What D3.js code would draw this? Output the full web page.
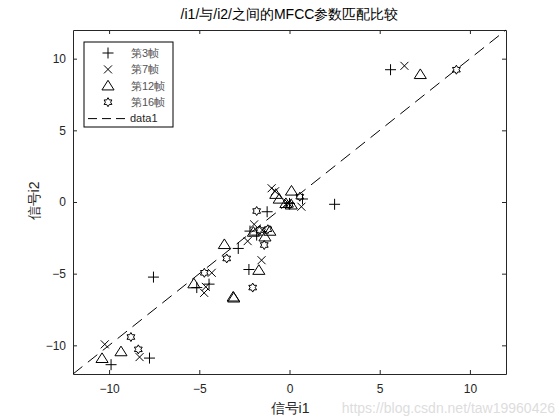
<!DOCTYPE html>
<html>
<head>
<meta charset="utf-8">
<script src="https://cdn.jsdelivr.net/npm/d3@7"></script>
<style>
  body { margin: 0; background: #fff; }
  text { font-family: "Liberation Sans", Arial, sans-serif; }
</style>
</head>
<body>
<svg id="chart"></svg>
<script>
// values (MFCC coefficient pairs per frame)
var frame3x  = [5.6, 2.5, -7.54, -5.14, -4.46, -2.25, -9.89, -7.76, -1.24, -2.19, -1.82, -2.84, 0.72, 0.0];
var frame3y  = [9.23, -0.16, -5.24, -5.97, -5.73, -4.71, -11.35, -10.89, -0.68, -2.03, -2.31, -3.24, 0.21, -0.1];
var frame7x  = [6.37, -10.24, -8.31, -4.73, -4.31, -4.64, -0.99, 0.66, -1.96, -2.32, -1.55, -1.5, -0.8, -0.1];
var frame7y  = [9.5, -9.93, -10.82, -6.34, -4.94, -5.92, 0.96, -0.33, -1.56, -2.73, -4.06, -1.96, 0.75, -0.05];
var frame12x = [7.25, -5.3, -1.7, -3.09, -3.12, -9.34, -10.39, -0.76, -0.57, 0.11, -3.61, -1.09, -1.36, -2.0, -0.2, 0.1];
var frame12y = [8.9, -5.7, -4.76, -6.69, -6.62, -10.44, -10.91, 0.54, 0.21, 0.77, -2.96, -2.03, -2.43, -2.1, -0.1, -0.2];
var frame16x = [9.25, -8.79, -8.38, -4.72, -2.04, -1.82, -1.64, -1.4, -3.48, 0.57, -1.2, 0.0];
var frame16y = [9.23, -9.42, -10.28, -4.94, -5.97, -0.63, -1.96, -3.0, -3.94, 0.37, -1.9, -0.2];
var legendNames = ["第3帧", "第7帧", "第12帧", "第16帧", "data1"];
var lineX = [-12, 12];
var xTicks = [-10, -5, 0, 5, 10];
var yTicks = [-10, -5, 0, 5, 10];

var width = 560, height = 420;
var margin = {left: 73, right: 54, top: 30, bottom: 46};

var svg = d3.select("#chart").attr("width", width).attr("height", height);

var x = d3.scaleLinear().domain([-12, 12]).range([margin.left, width - margin.right]);
var y = d3.scaleLinear().domain([-12, 12]).range([height - margin.bottom, margin.top]);

var ink = "#262626";

// axes with inward ticks on all four sides
var gx = svg.append("g")
  .attr("transform", "translate(0," + (height - margin.bottom) + ")")
  .call(d3.axisBottom(x).tickValues(xTicks).tickSizeInner(-4).tickSizeOuter(0).tickPadding(10));
var gxTop = svg.append("g")
  .attr("transform", "translate(0," + margin.top + ")")
  .call(d3.axisTop(x).tickValues(xTicks).tickSizeInner(-4).tickSizeOuter(0).tickFormat(""));
var gy = svg.append("g")
  .attr("transform", "translate(" + margin.left + ",0)")
  .call(d3.axisLeft(y).tickValues(yTicks).tickSizeInner(-4).tickSizeOuter(0).tickPadding(7));
var gyRight = svg.append("g")
  .attr("transform", "translate(" + (width - margin.right) + ",0)")
  .call(d3.axisRight(y).tickValues(yTicks).tickSizeInner(-4).tickSizeOuter(0).tickFormat(""));

[gx, gxTop, gy, gyRight].forEach(function(g) {
  g.select(".domain").attr("stroke", ink);
  g.selectAll(".tick line").attr("stroke", ink);
  g.selectAll(".tick text")
    .attr("fill", ink)
    .attr("font-size", "12px")
    .attr("font-family", "'Liberation Sans', Arial, sans-serif");
});

// dashed y = x reference line
svg.append("line")
  .attr("x1", x(lineX[0])).attr("y1", y(lineX[0]))
  .attr("x2", x(lineX[1])).attr("y2", y(lineX[1]))
  .attr("stroke", "#000")
  .attr("stroke-width", 1)
  .attr("stroke-dasharray", "12,7");

// marker shapes
function plusPath(s) { return "M" + (-s) + ",0H" + s + "M0," + (-s) + "V" + s; }
function crossPath(s) { return "M" + (-s) + "," + (-s) + "L" + s + "," + s + "M" + (-s) + "," + s + "L" + s + "," + (-s); }
function triPath(s) { return "M0," + (-s) + "L" + (s * 1.1) + "," + (s * 0.75) + "L" + (-s * 1.1) + "," + (s * 0.75) + "Z"; }
function hexPath(s) {
  var p = "";
  for (var k = 0; k < 12; k++) {
    var a = -Math.PI / 2 + k * Math.PI / 6;
    var r = (k % 2 === 0) ? s : s * 0.58;
    p += (k === 0 ? "M" : "L") + (r * Math.cos(a)).toFixed(2) + "," + (r * Math.sin(a)).toFixed(2);
  }
  return p + "Z";
}

var series = [
  {xs: frame3x,  ys: frame3y,  path: plusPath(5.5)},
  {xs: frame7x,  ys: frame7y,  path: crossPath(4)},
  {xs: frame12x, ys: frame12y, path: triPath(5.5)},
  {xs: frame16x, ys: frame16y, path: hexPath(4.5)}
];

series.forEach(function(s) {
  svg.append("g").selectAll("path")
    .data(d3.range(s.xs.length))
    .enter()
    .append("path")
    .attr("d", s.path)
    .attr("transform", function(i) { return "translate(" + x(s.xs[i]) + "," + y(s.ys[i]) + ")"; })
    .attr("fill", "none")
    .attr("stroke", "#000")
    .attr("stroke-width", 1);
});

// legend
var lg = svg.append("g").attr("transform", "translate(84,42)");
lg.append("rect")
  .attr("width", 89).attr("height", 85)
  .attr("fill", "#fff").attr("stroke", "#000").attr("stroke-width", 1);

series.forEach(function(s, i) {
  lg.append("path")
    .attr("d", s.path)
    .attr("transform", "translate(24," + (11 + i * 16.4) + ")")
    .attr("fill", "none").attr("stroke", "#000");
});
lg.append("line")
  .attr("x1", 4).attr("x2", 44)
  .attr("y1", 11 + 4 * 16.4).attr("y2", 11 + 4 * 16.4)
  .attr("stroke", "#000").attr("stroke-dasharray", "9,5");

lg.selectAll("text.lab")
  .data(legendNames)
  .enter()
  .append("text")
  .attr("class", "lab")
  .attr("x", function(d, i) { return i < 4 ? 47 : 46; })
  .attr("y", function(d, i) { return 11 + i * 16.4; })
  .attr("dy", "0.35em")
  .attr("font-size", "11px")
  .attr("font-family", "'Liberation Sans', 'Noto Sans CJK SC', sans-serif")
  .attr("fill", function(d, i) { return i < 4 ? "#555" : ink; })
  .text(function(d) { return d; });

// title and axis labels
svg.append("text")
  .attr("x", (margin.left + width - margin.right) / 2)
  .attr("y", 19)
  .attr("text-anchor", "middle")
  .attr("font-size", "14px")
  .attr("font-family", "'Liberation Sans', 'Noto Sans CJK SC', sans-serif")
  .attr("fill", "#000")
  .text("/i1/与/i2/之间的MFCC参数匹配比较");

svg.append("text")
  .attr("x", 290)
  .attr("y", 413)
  .attr("text-anchor", "middle")
  .attr("font-size", "14px")
  .attr("font-family", "'Noto Sans CJK SC', sans-serif")
  .attr("fill", ink)
  .text("信号i1");

svg.append("text")
  .attr("transform", "translate(39,201)rotate(-90)")
  .attr("text-anchor", "middle")
  .attr("font-size", "14px")
  .attr("font-family", "'Noto Sans CJK SC', sans-serif")
  .attr("fill", ink)
  .text("信号i2");

// watermark
svg.append("text")
  .attr("x", 555)
  .attr("y", 413)
  .attr("text-anchor", "end")
  .attr("font-size", "14px")
  .attr("fill", "#ddd")
  .text("https://blog.csdn.net/taw19960426");
</script>
</body>
</html>
